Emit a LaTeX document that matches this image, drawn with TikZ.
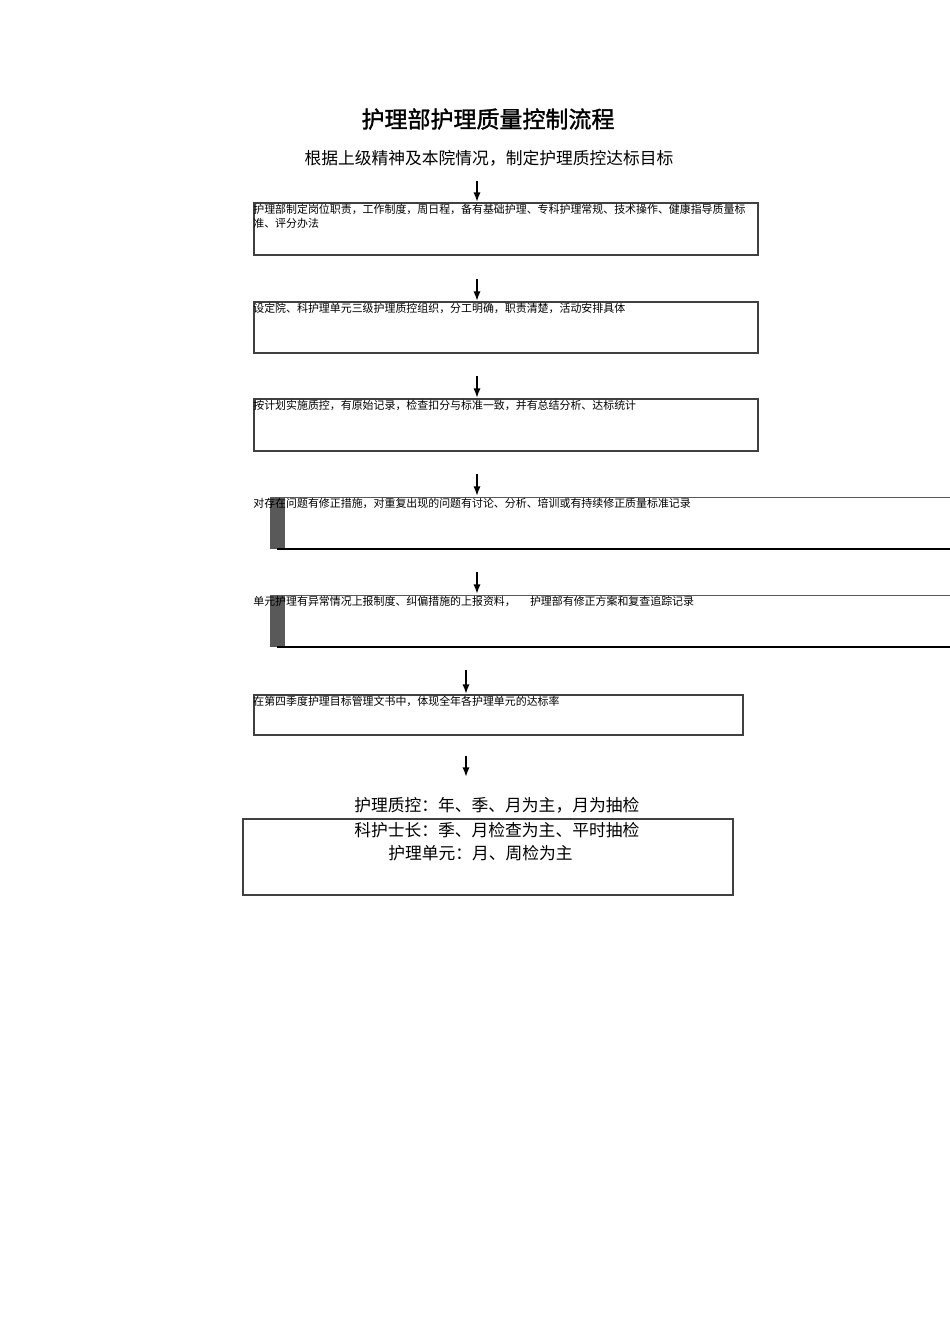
\documentclass[tikz,border=0pt]{standalone}
\usepackage{fontspec}
\newfontfamily\cjk{Noto Sans CJK SC}
\newfontfamily\cjkbold[FakeBold=1.5]{Noto Sans CJK SC}
\usetikzlibrary{arrows.meta}
\begin{document}
\begin{tikzpicture}[x=0.6263pt,y=-0.6263pt,
  boxline/.style={draw=black!75,line width=0.9pt},
  flowarrow/.style={draw=black,line width=1.1pt,-{Latex[length=6pt,width=4.5pt]}},
  smalltext/.style={anchor=north west,inner sep=0pt,align=left,font=\cjk\fontsize{6.85}{8.8}\selectfont},
  bigtext/.style={anchor=center,inner sep=0pt,font=\cjk\fontsize{10.5}{12}\selectfont},
  bar/.style={fill=black!65,draw=none}]
\useasboundingbox (0,0) rectangle (950,1344);
% title
\node[inner sep=0pt,font=\cjkbold\fontsize{14.4}{17}\selectfont] (title) at (488,119) {护理部护理质量控制流程};
\node[inner sep=0pt,font=\cjk\fontsize{10.5}{13}\selectfont] (goal) at (489,158) {根据上级精神及本院情况，制定护理质控达标目标};
% box 1
\draw[boxline] (254,203) rectangle (758,255);
\coordinate (b1) at (477,202);
\node[smalltext] (t1) at (253,203.5) {护理部制定岗位职责，工作制度，周日程，备有基础护理、专科护理常规、技术操作、健康指导质量标\\准、评分办法};
% box 2
\draw[boxline] (254,302) rectangle (758,353);
\coordinate (b2) at (477,301);
\node[smalltext] (t2) at (253,302.5) {设定院、科护理单元三级护理质控组织，分工明确，职责清楚，活动安排具体};
% box 3
\draw[boxline] (254,399) rectangle (758,451);
\coordinate (b3) at (477,398);
\node[smalltext] (t3) at (253,400) {按计划实施质控，有原始记录，检查扣分与标准一致，并有总结分析、达标统计};
% box 4
\draw[draw=black!65,line width=0.8pt] (270,497.5) -- (950,497.5);
\fill[bar] (270,498) rectangle (285,549);
\draw[black,line width=1.3pt] (277,549) -- (950,549);
\coordinate (b4) at (477,496);
\node[smalltext] (t4) at (253,497.5) {对存在问题有修正措施，对重复出现的问题有讨论、分析、培训或有持续修正质量标准记录};
% box 5
\draw[draw=black!65,line width=0.8pt] (270,595.5) -- (950,595.5);
\fill[bar] (270,596) rectangle (285,647);
\draw[black,line width=1.3pt] (277,647) -- (950,647);
\coordinate (b5) at (477,594);
\node[smalltext] (t5) at (253,595.5) {单元护理有异常情况上报制度、纠偏措施的上报资料，\hspace{1.3em}护理部有修正方案和复查追踪记录};
% box 6
\draw[boxline] (254,695) rectangle (743,735);
\coordinate (b6) at (466,694);
\node[smalltext] (t6) at (253,695.5) {在第四季度护理目标管理文书中，体现全年各护理单元的达标率};
% arrows
\coordinate (a1) at (477,181);
\coordinate (a2) at (477,279);
\coordinate (a3) at (477,376);
\coordinate (a4) at (477,474);
\coordinate (a5) at (477,572);
\coordinate (a6) at (466,670);
\coordinate (a7) at (466,756);
\coordinate (e7) at (466,777);
\draw[flowarrow] (a1) -- (b1);
\draw[flowarrow] (a2) -- (b2);
\draw[flowarrow] (a3) -- (b3);
\draw[flowarrow] (a4) -- (b4);
\draw[flowarrow] (a5) -- (b5);
\draw[flowarrow] (a6) -- (b6);
\draw[flowarrow] (a7) -- (e7);
% final
\node[bigtext,anchor=west] (f1) at (354,805) {护理质控：年、季、月为主，月为抽检};
\draw[boxline] (243,819) rectangle (733,895);
\node[bigtext,anchor=west] (f2) at (354,830) {科护士长：季、月检查为主、平时抽检};
\node[bigtext,anchor=west] (f3) at (388,853) {护理单元：月、周检为主};
\end{tikzpicture}
\end{document}
